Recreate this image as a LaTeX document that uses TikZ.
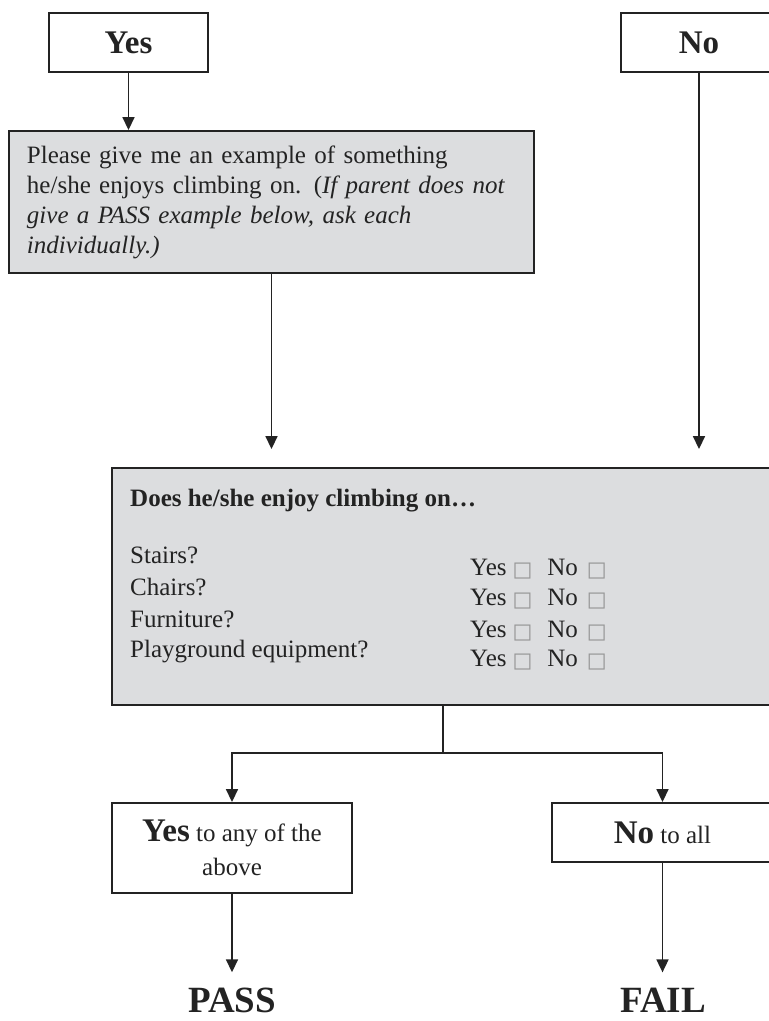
\documentclass[tikz,border=0pt]{standalone}
\usepackage{fontspec}
\setmainfont{Liberation Serif}
\newfontfamily\symfont{DejaVu Sans}
\usetikzlibrary{arrows.meta}
\definecolor{boxgray}{RGB}{220,221,223}
\definecolor{ink}{RGB}{35,35,35}
\definecolor{cbgray}{RGB}{150,150,150}
\newcommand{\cb}{{\symfont\fontsize{21}{21}\selectfont\textcolor{cbgray}{\raisebox{-1pt}{□}}}}
\newcommand{\yn}{Yes\hspace{6pt}\cb\hspace{15pt}No\hspace{9pt}\cb}
\begin{document}
\begin{tikzpicture}[x=1pt,y=-1pt,
  frame/.style={draw=ink, line width=1.9pt, inner sep=0pt},
  shaded/.style={frame, fill=boxgray},
  link/.style={draw=ink, line width=1.7pt},
  arr/.style={link, -{Triangle[width=12pt,length=13pt]}},
  body/.style={font=\fontsize{25}{30}\selectfont, text=ink},
  head/.style={font=\fontsize{33}{36}\selectfont\bfseries, text=ink},
  verdict/.style={font=\fontsize{37}{40}\selectfont\bfseries, text=ink, inner sep=0pt},
  txt/.style={body, inner sep=0pt, anchor=base west},
]
\useasboundingbox (0,0) rectangle (769,1021);

% top answer boxes
\node[frame, head, minimum width=159pt, minimum height=59pt] (yes) at (128.5,42.5) {Yes};
\node[frame, head, minimum width=156pt, minimum height=59pt] (no) at (699,42.5) {No};

% example question
\node[shaded, body, align=left, text width=489pt, inner xsep=18pt, minimum height=142pt] (ask) at (271.5,202)
  {Please give me an example of something\\
   he/she enjoys climbing on. (\textit{If parent does not}\\
   \textit{give a PASS example below, ask each}\\
   \textit{individually.)}};

% checklist box
\node[shaded, minimum width=678pt, minimum height=237pt] (q) at (451,586.5) {};
\node[txt, font=\fontsize{25}{28}\selectfont\bfseries] (qtitle) at (130,506) {Does he/she enjoy climbing on\dots};
\node[txt] (r1) at (130,563) {Stairs?};
\node[txt] (r2) at (130,595) {Chairs?};
\node[txt] (r3) at (130,627) {Furniture?};
\node[txt] (r4) at (130,657) {Playground equipment?};
\node[txt] (a1) at (470,575) {\yn};
\node[txt] (a2) at (470,605) {\yn};
\node[txt] (a3) at (470,637) {\yn};
\node[txt] (a4) at (470,666) {\yn};

% outcome boxes
\node[frame, body, align=center, minimum width=240pt, minimum height=90pt,
      font=\fontsize{25}{34}\selectfont] (yesall) at (232,848)
  {{\fontsize{33}{34}\selectfont\bfseries Yes} to any of the\\above};
\node[frame, body, minimum width=221pt, minimum height=59pt] (noall) at (662.5,832.5)
  {{\fontsize{33}{34}\selectfont\bfseries No} to all};

\node[verdict, anchor=base] (pass) at (232,1012) {PASS};
\node[verdict, anchor=base] (fail) at (663,1012) {FAIL};

% connectors
\draw[arr] (yes.south) -- (yes.south |- ask.north);
\draw[arr, shorten >=18pt] (ask.south) -- (ask.south |- q.north);
\draw[arr, shorten >=18pt] (no.south) -- (no.south |- q.north);
\coordinate (split) at (443,753);
\draw[link] (split |- q.south) -- (split);
\draw[arr] (split) -| (yesall.north);
\draw[arr] (split) -| (noall.north);
\draw[arr, shorten >=15pt] (yesall.south) -- (yesall.south |- pass.north);
\draw[arr, shorten >=15pt] (noall.south) -- (noall.south |- fail.north);
\end{tikzpicture}
\end{document}
